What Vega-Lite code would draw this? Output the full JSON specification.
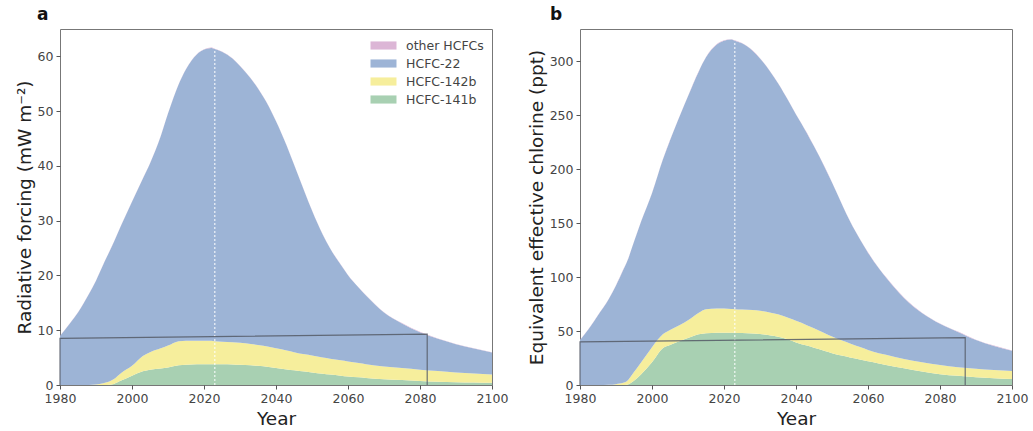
{
  "$schema": "https://vega.github.io/schema/vega-lite/v6.json",
  "background": "white",
  "padding": {"left": 14, "top": 5, "right": 0, "bottom": 2},
  "config": {
    "font": "DejaVu Sans",
    "view": {"stroke": "#777777", "strokeWidth": 1},
    "axis": {"domain": false, "grid": false, "ticks": true, "tickColor": "#555555", "tickSize": 4, "labelColor": "#444444", "labelFontSize": 12.5, "labelFont": "DejaVu Sans", "labelFlush": false, "titleFont": "DejaVu Sans", "titleFontSize": 18.5, "titleFontWeight": "normal", "titleColor": "#222222", "labelPadding": 3},
    "axisX": {"titlePadding": 5},
    "axisY": {"titlePadding": 3},
    "title": {"font": "DejaVu Sans", "fontSize": 17, "fontWeight": "bold", "color": "#111111"}
  },
  "datasets": {
    "ra": [
      {"year":1980,"HCFC-141b":0,"HCFC-142b":0,"HCFC-22":8.95,"other HCFCs":0.05},
      {"year":1983,"HCFC-141b":0,"HCFC-142b":0,"HCFC-22":11.45,"other HCFCs":0.05},
      {"year":1985,"HCFC-141b":0,"HCFC-142b":0,"HCFC-22":13.25,"other HCFCs":0.05},
      {"year":1988,"HCFC-141b":0,"HCFC-142b":0.02,"HCFC-22":16.53,"other HCFCs":0.05},
      {"year":1990,"HCFC-141b":0,"HCFC-142b":0.1,"HCFC-22":18.95,"other HCFCs":0.05},
      {"year":1992,"HCFC-141b":0,"HCFC-142b":0.3,"HCFC-22":21.65,"other HCFCs":0.05},
      {"year":1993,"HCFC-141b":0,"HCFC-142b":0.5,"HCFC-22":22.85,"other HCFCs":0.05},
      {"year":1995,"HCFC-141b":0.2,"HCFC-142b":0.9,"HCFC-22":25.05,"other HCFCs":0.05},
      {"year":1997,"HCFC-141b":0.8,"HCFC-142b":1.4,"HCFC-22":26.95,"other HCFCs":0.05},
      {"year":2000,"HCFC-141b":1.7,"HCFC-142b":1.8,"HCFC-22":29.95,"other HCFCs":0.05},
      {"year":2003,"HCFC-141b":2.5,"HCFC-142b":2.8,"HCFC-22":32.35,"other HCFCs":0.05},
      {"year":2005,"HCFC-141b":2.8,"HCFC-142b":3.2,"HCFC-22":34.45,"other HCFCs":0.05},
      {"year":2008,"HCFC-141b":3.0,"HCFC-142b":3.7,"HCFC-22":38.75,"other HCFCs":0.05},
      {"year":2010,"HCFC-141b":3.2,"HCFC-142b":4.0,"HCFC-22":42.35,"other HCFCs":0.05},
      {"year":2013,"HCFC-141b":3.6,"HCFC-142b":4.4,"HCFC-22":46.95,"other HCFCs":0.05},
      {"year":2015,"HCFC-141b":3.7,"HCFC-142b":4.4,"HCFC-22":49.55,"other HCFCs":0.05},
      {"year":2018,"HCFC-141b":3.8,"HCFC-142b":4.3,"HCFC-22":52.25,"other HCFCs":0.05},
      {"year":2020,"HCFC-141b":3.8,"HCFC-142b":4.3,"HCFC-22":53.15,"other HCFCs":0.05},
      {"year":2022,"HCFC-141b":3.8,"HCFC-142b":4.3,"HCFC-22":53.45,"other HCFCs":0.05},
      {"year":2023,"HCFC-141b":3.8,"HCFC-142b":4.2,"HCFC-22":53.35,"other HCFCs":0.05},
      {"year":2025,"HCFC-141b":3.8,"HCFC-142b":4.1,"HCFC-22":52.95,"other HCFCs":0.05},
      {"year":2028,"HCFC-141b":3.75,"HCFC-142b":4.05,"HCFC-22":51.75,"other HCFCs":0.05},
      {"year":2030,"HCFC-141b":3.7,"HCFC-142b":4.0,"HCFC-22":50.55,"other HCFCs":0.05},
      {"year":2033,"HCFC-141b":3.6,"HCFC-142b":3.9,"HCFC-22":48.45,"other HCFCs":0.05},
      {"year":2035,"HCFC-141b":3.5,"HCFC-142b":3.8,"HCFC-22":46.85,"other HCFCs":0.05},
      {"year":2038,"HCFC-141b":3.3,"HCFC-142b":3.7,"HCFC-22":43.85,"other HCFCs":0.05},
      {"year":2040,"HCFC-141b":3.1,"HCFC-142b":3.6,"HCFC-22":41.45,"other HCFCs":0.05},
      {"year":2043,"HCFC-141b":2.85,"HCFC-142b":3.45,"HCFC-22":37.35,"other HCFCs":0.05},
      {"year":2045,"HCFC-141b":2.7,"HCFC-142b":3.3,"HCFC-22":34.25,"other HCFCs":0.05},
      {"year":2048,"HCFC-141b":2.45,"HCFC-142b":3.15,"HCFC-22":29.55,"other HCFCs":0.05},
      {"year":2050,"HCFC-141b":2.3,"HCFC-142b":3.1,"HCFC-22":26.45,"other HCFCs":0.05},
      {"year":2053,"HCFC-141b":2.05,"HCFC-142b":2.95,"HCFC-22":22.45,"other HCFCs":0.05},
      {"year":2055,"HCFC-141b":1.9,"HCFC-142b":2.9,"HCFC-22":20.15,"other HCFCs":0.05},
      {"year":2058,"HCFC-141b":1.7,"HCFC-142b":2.8,"HCFC-22":17.45,"other HCFCs":0.05},
      {"year":2060,"HCFC-141b":1.55,"HCFC-142b":2.75,"HCFC-22":15.75,"other HCFCs":0.05},
      {"year":2063,"HCFC-141b":1.4,"HCFC-142b":2.6,"HCFC-22":13.75,"other HCFCs":0.05},
      {"year":2065,"HCFC-141b":1.3,"HCFC-142b":2.5,"HCFC-22":12.55,"other HCFCs":0.05},
      {"year":2070,"HCFC-141b":1.05,"HCFC-142b":2.35,"HCFC-22":9.85,"other HCFCs":0.05},
      {"year":2075,"HCFC-141b":0.9,"HCFC-142b":2.2,"HCFC-22":8.15,"other HCFCs":0.05},
      {"year":2080,"HCFC-141b":0.75,"HCFC-142b":2.05,"HCFC-22":6.85,"other HCFCs":0.05},
      {"year":2085,"HCFC-141b":0.6,"HCFC-142b":1.95,"HCFC-22":5.9,"other HCFCs":0.05},
      {"year":2090,"HCFC-141b":0.5,"HCFC-142b":1.8,"HCFC-22":5.15,"other HCFCs":0.05},
      {"year":2095,"HCFC-141b":0.45,"HCFC-142b":1.65,"HCFC-22":4.55,"other HCFCs":0.05},
      {"year":2100,"HCFC-141b":0.4,"HCFC-142b":1.5,"HCFC-22":4.05,"other HCFCs":0.05}
    ],
    "eecl": [
      {"year":1980,"HCFC-141b":0,"HCFC-142b":0,"HCFC-22":41.7,"other HCFCs":0.3},
      {"year":1983,"HCFC-141b":0,"HCFC-142b":0,"HCFC-22":54.7,"other HCFCs":0.3},
      {"year":1985,"HCFC-141b":0,"HCFC-142b":0,"HCFC-22":64.7,"other HCFCs":0.3},
      {"year":1988,"HCFC-141b":0,"HCFC-142b":0.2,"HCFC-22":79.5,"other HCFCs":0.3},
      {"year":1990,"HCFC-141b":0,"HCFC-142b":0.8,"HCFC-22":91.4,"other HCFCs":0.3},
      {"year":1992,"HCFC-141b":0,"HCFC-142b":2,"HCFC-22":104.7,"other HCFCs":0.3},
      {"year":1993,"HCFC-141b":0.3,"HCFC-142b":3.2,"HCFC-22":110.2,"other HCFCs":0.3},
      {"year":1995,"HCFC-141b":4,"HCFC-142b":8,"HCFC-22":120.7,"other HCFCs":0.3},
      {"year":1997,"HCFC-141b":10,"HCFC-142b":11,"HCFC-22":130.7,"other HCFCs":0.3},
      {"year":2000,"HCFC-141b":21,"HCFC-142b":14,"HCFC-22":142.7,"other HCFCs":0.3},
      {"year":2003,"HCFC-141b":34,"HCFC-142b":13,"HCFC-22":161.7,"other HCFCs":0.3},
      {"year":2005,"HCFC-141b":37,"HCFC-142b":14,"HCFC-22":175.7,"other HCFCs":0.3},
      {"year":2008,"HCFC-141b":41,"HCFC-142b":15,"HCFC-22":195.7,"other HCFCs":0.3},
      {"year":2010,"HCFC-141b":43.5,"HCFC-142b":16.5,"HCFC-22":207.7,"other HCFCs":0.3},
      {"year":2013,"HCFC-141b":47,"HCFC-142b":20,"HCFC-22":223.7,"other HCFCs":0.3},
      {"year":2015,"HCFC-141b":48,"HCFC-142b":22.2,"HCFC-22":233.5,"other HCFCs":0.3},
      {"year":2018,"HCFC-141b":48.5,"HCFC-142b":22.5,"HCFC-22":244.7,"other HCFCs":0.3},
      {"year":2020,"HCFC-141b":48.5,"HCFC-142b":22.3,"HCFC-22":248.4,"other HCFCs":0.3},
      {"year":2022,"HCFC-141b":48.5,"HCFC-142b":22,"HCFC-22":249.7,"other HCFCs":0.3},
      {"year":2023,"HCFC-141b":48.3,"HCFC-142b":22,"HCFC-22":248.9,"other HCFCs":0.3},
      {"year":2025,"HCFC-141b":48.2,"HCFC-142b":21.8,"HCFC-22":246.7,"other HCFCs":0.3},
      {"year":2028,"HCFC-141b":47.8,"HCFC-142b":21.7,"HCFC-22":240.2,"other HCFCs":0.3},
      {"year":2030,"HCFC-141b":47.2,"HCFC-142b":21.6,"HCFC-22":233.9,"other HCFCs":0.3},
      {"year":2033,"HCFC-141b":45.8,"HCFC-142b":21.2,"HCFC-22":222.7,"other HCFCs":0.3},
      {"year":2035,"HCFC-141b":44.8,"HCFC-142b":20.7,"HCFC-22":214.2,"other HCFCs":0.3},
      {"year":2038,"HCFC-141b":42,"HCFC-142b":20,"HCFC-22":200.7,"other HCFCs":0.3},
      {"year":2040,"HCFC-141b":39.5,"HCFC-142b":20,"HCFC-22":191.2,"other HCFCs":0.3},
      {"year":2043,"HCFC-141b":36.5,"HCFC-142b":19,"HCFC-22":178.2,"other HCFCs":0.3},
      {"year":2045,"HCFC-141b":34.5,"HCFC-142b":18,"HCFC-22":168.7,"other HCFCs":0.3},
      {"year":2048,"HCFC-141b":31.5,"HCFC-142b":16.5,"HCFC-22":153.7,"other HCFCs":0.3},
      {"year":2050,"HCFC-141b":29.5,"HCFC-142b":15.5,"HCFC-22":142.7,"other HCFCs":0.3},
      {"year":2053,"HCFC-141b":27,"HCFC-142b":14,"HCFC-22":124.7,"other HCFCs":0.3},
      {"year":2055,"HCFC-141b":25.5,"HCFC-142b":13,"HCFC-22":113.2,"other HCFCs":0.3},
      {"year":2058,"HCFC-141b":23.5,"HCFC-142b":11.5,"HCFC-22":98.7,"other HCFCs":0.3},
      {"year":2060,"HCFC-141b":22,"HCFC-142b":10.5,"HCFC-22":90.2,"other HCFCs":0.3},
      {"year":2063,"HCFC-141b":20,"HCFC-142b":9.5,"HCFC-22":78.7,"other HCFCs":0.3},
      {"year":2065,"HCFC-141b":18.5,"HCFC-142b":9.5,"HCFC-22":71.7,"other HCFCs":0.3},
      {"year":2070,"HCFC-141b":15.5,"HCFC-142b":8.5,"HCFC-22":56.7,"other HCFCs":0.3},
      {"year":2075,"HCFC-141b":12.5,"HCFC-142b":8.5,"HCFC-22":45.7,"other HCFCs":0.3},
      {"year":2080,"HCFC-141b":10,"HCFC-142b":8.5,"HCFC-22":38.2,"other HCFCs":0.3},
      {"year":2085,"HCFC-141b":8.5,"HCFC-142b":8,"HCFC-22":32.7,"other HCFCs":0.3},
      {"year":2090,"HCFC-141b":7.3,"HCFC-142b":7.7,"HCFC-22":26.7,"other HCFCs":0.3},
      {"year":2095,"HCFC-141b":6.3,"HCFC-142b":7.5,"HCFC-22":22.4,"other HCFCs":0.3},
      {"year":2100,"HCFC-141b":5.5,"HCFC-142b":7.5,"HCFC-22":18.7,"other HCFCs":0.3}
    ],
    "boxA": [
      {"i":1,"year":1980,"v":0},
      {"i":2,"year":1980,"v":8.5},
      {"i":3,"year":2082,"v":9.3},
      {"i":4,"year":2082,"v":0}
    ],
    "boxB": [
      {"i":1,"year":1980,"v":0},
      {"i":2,"year":1980,"v":40},
      {"i":3,"year":2087,"v":44},
      {"i":4,"year":2087,"v":0}
    ],
    "nowA": [{"year":2023,"lo":0,"hi":61.2}],
    "nowB": [{"year":2023,"lo":0,"hi":318.5}]
  },
  "spacing": 17,
  "resolve": {"scale": {"color": "independent"}},
  "hconcat": [
    {
      "width": 432,
      "height": 356,
      "title": {"text": "a", "anchor": "start", "frame": "group", "dx": -23, "offset": 5},
      "layer": [
        {
          "data": {"name": "ra"},
          "transform": [{"fold": ["HCFC-141b", "HCFC-142b", "HCFC-22", "other HCFCs"], "as": ["series", "value"]}],
          "mark": {"type": "area", "interpolate": "monotone", "opacity": 1},
          "encoding": {
            "x": {"field": "year", "type": "quantitative", "scale": {"domain": [1980, 2100], "nice": false, "zero": false}, "axis": {"values": [1980, 2000, 2020, 2040, 2060, 2080, 2100], "format": "d", "title": "Year"}},
            "y": {"field": "value", "type": "quantitative", "stack": "zero", "scale": {"domain": [0, 65], "nice": false}, "axis": {"values": [0, 10, 20, 30, 40, 50, 60], "title": "Radiative forcing (mW m⁻²)"}},
            "color": {"field": "series", "type": "nominal", "scale": {"domain": ["other HCFCs", "HCFC-22", "HCFC-142b", "HCFC-141b"], "range": ["#dcb6d6", "#9db4d6", "#f6ee9c", "#a8d0b2"]},
              "legend": {"orient": "top-right", "title": null, "offset": 8, "symbolType": "M-1.6,-0.5H1.6V0.5H-1.6Z", "symbolSize": 264, "symbolStrokeWidth": 0, "labelFontSize": 12.5, "labelColor": "#444444", "labelFont": "DejaVu Sans", "labelOffset": 14, "rowPadding": 3, "padding": 0}},
            "order": {"field": "series", "sort": "ascending"}
          }
        },
        {
          "data": {"name": "nowA"},
          "mark": {"type": "rule", "color": "white", "strokeDash": [2, 2], "strokeWidth": 1.2, "opacity": 0.85},
          "encoding": {
            "x": {"field": "year", "type": "quantitative", "scale": {"domain": [1980, 2100], "nice": false, "zero": false}},
            "y": {"field": "lo", "type": "quantitative", "scale": {"domain": [0, 65], "nice": false}},
            "y2": {"field": "hi"}
          }
        },
        {
          "data": {"name": "boxA"},
          "mark": {"type": "line", "color": "#555a66", "strokeWidth": 1.2, "opacity": 0.85},
          "encoding": {
            "x": {"field": "year", "type": "quantitative", "scale": {"domain": [1980, 2100], "nice": false, "zero": false}},
            "y": {"field": "v", "type": "quantitative", "scale": {"domain": [0, 65], "nice": false}},
            "order": {"field": "i"}
          }
        }
      ]
    },
    {
      "width": 432,
      "height": 356,
      "title": {"text": "b", "anchor": "start", "frame": "group", "dx": -30, "offset": 5},
      "layer": [
        {
          "data": {"name": "eecl"},
          "transform": [{"fold": ["HCFC-141b", "HCFC-142b", "HCFC-22", "other HCFCs"], "as": ["series", "value"]}],
          "mark": {"type": "area", "interpolate": "monotone", "opacity": 1},
          "encoding": {
            "x": {"field": "year", "type": "quantitative", "scale": {"domain": [1980, 2100], "nice": false, "zero": false}, "axis": {"values": [1980, 2000, 2020, 2040, 2060, 2080, 2100], "format": "d", "title": "Year"}},
            "y": {"field": "value", "type": "quantitative", "stack": "zero", "scale": {"domain": [0, 330], "nice": false}, "axis": {"values": [0, 50, 100, 150, 200, 250, 300], "title": "Equivalent effective chlorine (ppt)"}},
            "color": {"field": "series", "type": "nominal", "scale": {"domain": ["other HCFCs", "HCFC-22", "HCFC-142b", "HCFC-141b"], "range": ["#dcb6d6", "#9db4d6", "#f6ee9c", "#a8d0b2"]}, "legend": null},
            "order": {"field": "series", "sort": "ascending"}
          }
        },
        {
          "data": {"name": "nowB"},
          "mark": {"type": "rule", "color": "white", "strokeDash": [2, 2], "strokeWidth": 1.2, "opacity": 0.85},
          "encoding": {
            "x": {"field": "year", "type": "quantitative", "scale": {"domain": [1980, 2100], "nice": false, "zero": false}},
            "y": {"field": "lo", "type": "quantitative", "scale": {"domain": [0, 330], "nice": false}},
            "y2": {"field": "hi"}
          }
        },
        {
          "data": {"name": "boxB"},
          "mark": {"type": "line", "color": "#555a66", "strokeWidth": 1.2, "opacity": 0.85},
          "encoding": {
            "x": {"field": "year", "type": "quantitative", "scale": {"domain": [1980, 2100], "nice": false, "zero": false}},
            "y": {"field": "v", "type": "quantitative", "scale": {"domain": [0, 330], "nice": false}},
            "order": {"field": "i"}
          }
        }
      ]
    }
  ]
}
